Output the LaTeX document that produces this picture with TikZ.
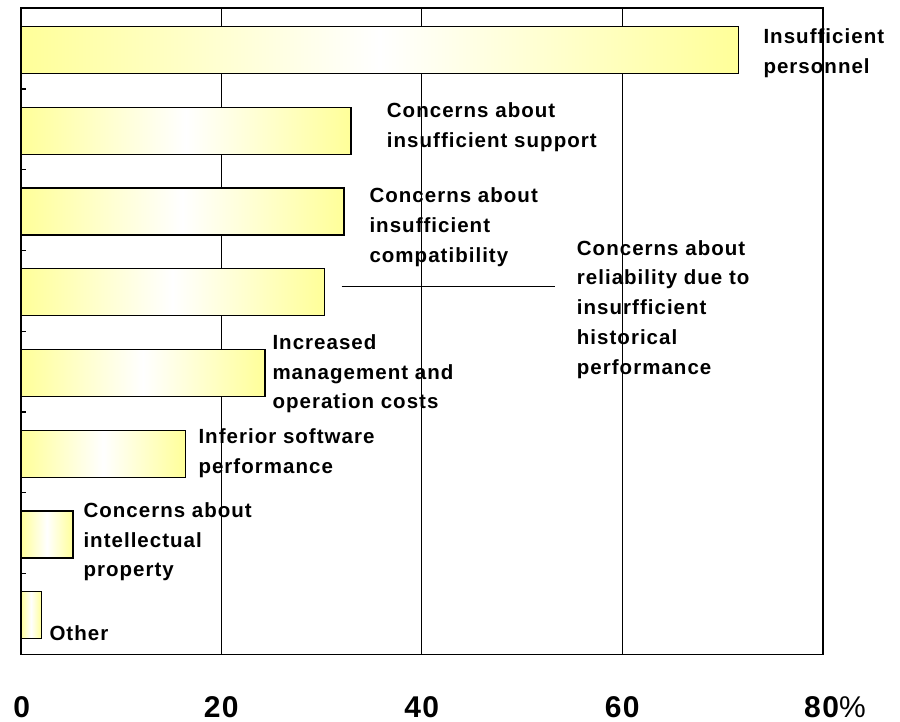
\documentclass[tikz,border=0pt]{standalone}
\usepackage{fontspec}
\setmainfont{Liberation Sans}[LetterSpace=5]
\usetikzlibrary{positioning}

\definecolor{baryellow}{RGB}{255,255,153}

\tikzset{
	bar/.style={draw=black, line width=1.2pt, left color=baryellow, right color=baryellow, middle color=white},
	barlabel/.style={anchor=base west, inner sep=0pt, align=left, font=\bfseries\fontsize{20.5}{29.8}\selectfont},
	axislabel/.style={anchor=base, inner sep=0pt, font=\bfseries\fontsize{30}{36}\selectfont},
}

\begin{document}
\begin{tikzpicture}[x=1pt, y=-1pt]
		\useasboundingbox (0,0) rectangle (900,722);
		
		% grid
		\foreach \p in {20, 40, 60}{
			\draw[line width=1.3pt] ({20.7+\p*10.025},8.3) -- ({20.7+\p*10.025},654.3);
		}
		
		% bars
		\foreach \v [count=\i from 0] in {71.6, 32.95, 32.25, 30.28, 24.37, 16.46, 5.22, 2.06}{
			\pgfmathsetmacro\yt{26.7+\i*80.7}
			\draw[bar] (20.7,\yt) rectangle ({20.7+\v*10.025},{\yt+47});
		}
		
		% frame and ticks
		\draw[line width=1.6pt] (20.7,8.3) rectangle (822.7,654.3);
		\foreach \k in {1, ..., 7}{
			\draw[line width=1.3pt] (20.7,{8.3+\k*80.75}) -- (26,{8.3+\k*80.75});
		}
		
		% labels (placed at the baseline of their last line)
		\node[barlabel] (personnel) at (763.3,73.8) {Insufficient\\personnel};
		\node[barlabel] (support) at (386.7,147.3) {Concerns about\\insufficient support};
		\node[barlabel] (compat) at (369.3,262.3) {Concerns about\\insufficient\\compatibility};
		\node[barlabel] (reliab) at (576.7,374.2) {Concerns about\\reliability due to\\insurfficient\\historical\\performance};
		\node[barlabel] (costs) at (272.3,408.9) {Increased\\management and\\operation costs};
		\node[barlabel] (inferior) at (198.3,473.1) {Inferior software\\performance};
		\node[barlabel] (ip) at (83.3,576.9) {Concerns about\\intellectual\\property};
		\node[barlabel] (other) at (49.3,640) {Other};
		
		\coordinate (leadstart) at (341.7,286.7);
		\coordinate (leadend) at (555,286.7);
		\draw[line width=1.3pt] (leadstart) -- (leadend);
		
		% axis
		\node[axislabel] (ax0) at (21.7,717) {0};
		\node[axislabel] (ax20) at (221.2,717) {20};
		\node[axislabel] (ax40) at (421.7,717) {40};
		\node[axislabel] (ax60) at (622.2,717) {60};
		\node[axislabel, anchor=base west] (ax80) at (804,717) {80{\mdseries\%}};
	\end{tikzpicture}
\end{document}
